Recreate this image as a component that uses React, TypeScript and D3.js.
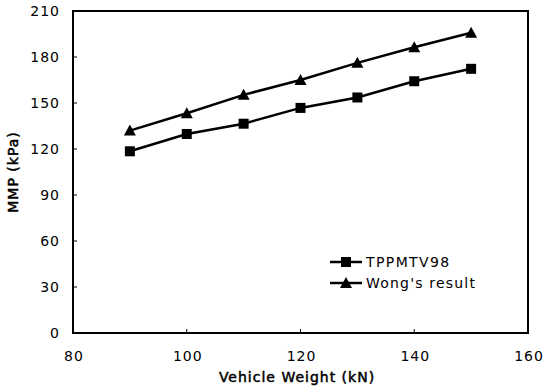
import React from "react";
import * as d3 from "d3";

const weights = [90, 100, 110, 120, 130, 140, 150];
const tppmtv98 = [118.5, 129.8, 136.5, 146.8, 153.6, 164.2, 172.3];
const wongs = [132, 143.3, 155.3, 165, 176.2, 186.4, 195.8];
const xTicks = [80, 100, 120, 140, 160];
const yTicks = [0, 30, 60, 90, 120, 150, 180, 210];
const seriesNames = ["TPPMTV98", "Wong's result"];

const W = 543, H = 391;
const L = 73, R = 528, T = 11, B = 333;
const font = "'DejaVu Sans', Verdana, sans-serif";

export default function App() {
  const x = d3.scaleLinear().domain([80, 160]).range([L, R]);
  const y = d3.scaleLinear().domain([0, 210]).range([B, T]);
  const line = d3.line<number>().x((_, i) => x(weights[i])).y((d) => y(d));

  const square = (cx: number, cy: number, k: string) => (
    <rect key={k} x={cx - 5} y={cy - 5} width={10} height={10} fill="#000" />
  );
  const tri = (cx: number, cy: number, k: string) => (
    <path key={k} d={`M${cx},${cy - 6}L${cx + 6},${cy + 5}L${cx - 6},${cy + 5}Z`} fill="#000" />
  );

  return (
    <svg width={W} height={H} style={{ position: "absolute", left: 0, top: 0, background: "#fff" }}>
      <rect width={W} height={H} fill="#fff" />
      {yTicks.map((t) => (
        <g key={"y" + t}>
          <line x1={L} x2={L + 4} y1={y(t)} y2={y(t)} stroke="#000" strokeWidth={1} />
          <text x={L - 13} y={y(t)} dy="0.36em" textAnchor="end" fontFamily={font} fontSize={14} fill="#000" letterSpacing={1}>
            {t}
          </text>
        </g>
      ))}
      {xTicks.map((t) => (
        <g key={"x" + t}>
          <line x1={x(t)} x2={x(t)} y1={B} y2={B - 4} stroke="#000" strokeWidth={1} />
          <text x={x(t) + 1} y={361} textAnchor="middle" fontFamily={font} fontSize={14} fill="#000" letterSpacing={1}>
            {t}
          </text>
        </g>
      ))}
      <rect x={L} y={T} width={R - L} height={B - T} fill="none" stroke="#000" strokeWidth={2} />
      <path d={line(tppmtv98) || ""} fill="none" stroke="#000" strokeWidth={2.5} />
      <path d={line(wongs) || ""} fill="none" stroke="#000" strokeWidth={2.5} />
      {tppmtv98.map((v, i) => square(x(weights[i]), y(v), "s" + i))}
      {wongs.map((v, i) => tri(x(weights[i]), y(v), "t" + i))}
      <g>
        <line x1={330} x2={362} y1={262} y2={262} stroke="#000" strokeWidth={2.5} />
        {square(346, 262, "ls")}
        <text x={366} y={262} dy="0.36em" fontFamily={font} fontSize={14} fill="#000" letterSpacing={1.4}>{seriesNames[0]}</text>
        <line x1={330} x2={362} y1={283} y2={283} stroke="#000" strokeWidth={2.5} />
        {tri(346, 283, "lt")}
        <text x={366} y={283} dy="0.36em" fontFamily={font} fontSize={14} fill="#000" letterSpacing={1.2}>{seriesNames[1]}</text>
      </g>
      <text x={297} y={382} textAnchor="middle" fontFamily={font} fontSize={14} fill="#000" stroke="#000" strokeWidth={0.5} letterSpacing={1}>
        Vehicle Weight (kN)
      </text>
      <text transform={`translate(18,${(T + B) / 2}) rotate(-90)`} textAnchor="middle" fontFamily={font} fontSize={14} fill="#000" stroke="#000" strokeWidth={0.5} letterSpacing={1}>
        MMP (kPa)
      </text>
    </svg>
  );
}
